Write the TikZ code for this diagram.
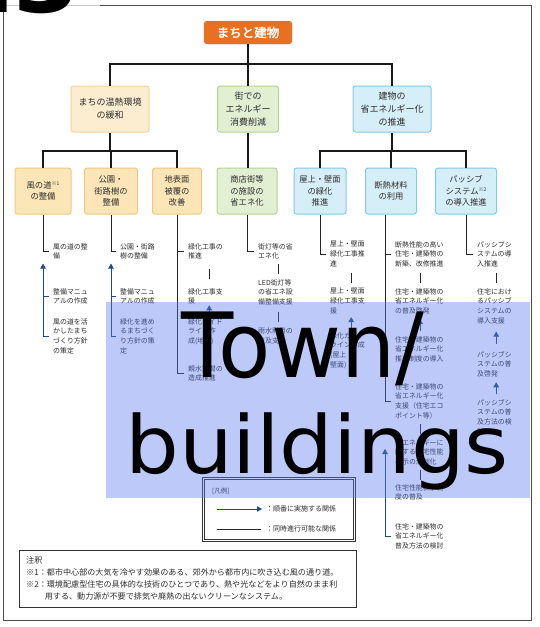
\documentclass[tikz,border=0pt]{standalone}
\usepackage{fontspec}
\usepackage{graphicx}
\usetikzlibrary{arrows.meta,calc}
\newfontfamily\jp{Noto Sans CJK JP}
\newfontfamily\jpbold[AutoFakeBold=2.5]{Noto Sans CJK JP}
\newfontfamily\bigsans{DejaVu Sans}
\definecolor{orng}{RGB}{232,112,32}
\definecolor{yfill}{RGB}{253,237,208}
\definecolor{yline}{RGB}{244,212,155}
\definecolor{yfillc}{RGB}{252,229,182}
\definecolor{ylinec}{RGB}{240,200,130}
\definecolor{gfill}{RGB}{226,239,211}
\definecolor{gline}{RGB}{178,213,148}
\definecolor{bfill}{RGB}{214,238,248}
\definecolor{bline}{RGB}{128,204,232}
\definecolor{arrb}{RGB}{30,75,140}
\definecolor{ovl}{RGB}{90,120,240}
\definecolor{txt}{RGB}{45,45,45}
\newcommand{\fitem}{\jp\fontsize{6.9}{9.8}\selectfont}
\newcommand{\flthree}{\jp\fontsize{8.3}{11.6}\selectfont}
\newcommand{\fltwo}{\jp\fontsize{9}{13}\selectfont}
\newcommand{\supmark}[1]{\raisebox{2.5pt}{\fontsize{5}{5}\selectfont #1}}
\tikzset{
  box/.style={draw, rounded corners=2.5pt, line width=1pt, align=center, inner sep=0pt, minimum height=46pt, text=txt},
  ytwo/.style={box, fill=yfill, draw=yline, font=\fltwo},
  gtwo/.style={box, fill=gfill, draw=gline, font=\fltwo},
  btwo/.style={box, fill=bfill, draw=bline, font=\fltwo},
  ythree/.style={box, fill=yfillc, draw=ylinec, font=\flthree},
  gthree/.style={box, fill=gfill, draw=gline, font=\flthree},
  bthree/.style={box, fill=bfill, draw=bline, font=\flthree},
  tree/.style={line width=2.8pt, black!90},
  conn/.style={line width=0.7pt, black!85},
  seq/.style={line width=0.8pt, draw=arrb, -{Triangle[width=5.5pt,length=5pt]}},
  seqline/.style={line width=0.8pt, draw=arrb},
  item/.style={anchor=north west, inner sep=0pt, align=left, font=\fitem, text=txt, text width=#1},
}
\begin{document}
\begin{tikzpicture}[x=1pt,y=-1pt]
\useasboundingbox (0,0) rectangle (539,627);
\clip (0,0) rectangle (539,627);
\fill[white] (0,0) rectangle (539,627);
% outer frame
\draw[gray!60!black, line width=1pt] (3,5) rectangle (531,620);

% title and level 2
\node[fill=orng, draw=orng!85!white, rounded corners=3pt, minimum width=88pt, minimum height=23pt, inner sep=0pt, text=white, font=\jpbold\bfseries\fontsize{12.5}{14}\selectfont] (T) at (248,32.5) {まちと建物};
\node[ytwo, minimum width=78pt] (A) at (110,109) {まちの温熱環境\\の緩和};
\node[gtwo, minimum width=61pt] (B) at (248,109) {街での\\エネルギー\\消費削減};
\node[btwo, minimum width=78pt] (C) at (392,109) {建物の\\省エネルギー化\\の推進};

% level 3
\node[ythree, minimum width=56pt] (L1) at (43,191) {風の道\supmark{※1}\\の整備};
\node[ythree, minimum width=53pt] (L2) at (111,191) {公園・\\街路樹の\\整備};
\node[ythree, minimum width=49pt] (L3) at (177,191) {地表面\\被覆の\\改善};
\node[gthree, minimum width=60pt] (L4) at (247,191) {商店街等\\の施設の\\省エネ化};
\node[bthree, minimum width=52pt] (L5) at (320,191) {屋上・壁面\\の緑化\\推進};
\node[bthree, minimum width=51pt] (L6) at (391,191) {断熱材料\\の利用};
\node[bthree, minimum width=61pt] (L7) at (466,191) {パッシブ\\システム\supmark{※2}\\の導入推進};

% tree connectors
\coordinate (bar1) at (0,64);
\coordinate (bar2) at (0,151);
\draw[tree] (T.south) -- (B.north);
\draw[tree] (A.north) -- (A.north |- bar1) -- (C.north |- bar1) -- (C.north);
\draw[tree] (A.south) -- (A.south |- bar2);
\draw[tree] (L1.north) -- (L1.north |- bar2) -- (L3.north |- bar2) -- (L3.north);
\draw[tree] (L2.north) -- (L2.north |- bar2);
\draw[tree] (B.south) -- (B.south |- L4.north);
\draw[tree] (C.south) -- (C.south |- bar2);
\draw[tree] (L5.north) -- (L5.north |- bar2) -- (L7.north |- bar2) -- (L7.north);
\draw[tree] (L6.north) -- (L6.north |- bar2);

% items column 1
\node[item=38pt] (I11) at (53,243) {風の道の整\\備};
\node[item=38pt] (I12) at (53,288) {整備マニュ\\アルの作成};
\node[item=38pt] (I13) at (53,318) {風の道を活\\かしたまち\\づくり方針\\の策定};
% column 2
\node[item=38pt] (I21) at (120,243) {公園・街路\\樹の整備};
\node[item=38pt] (I22) at (120,288) {整備マニュ\\アルの作成};
\node[item=38pt] (I23) at (120,318) {緑化を進め\\るまちづく\\り方針の策\\定};
% column 3
\node[item=42pt] (I31) at (188,243) {緑化工事の\\推進};
\node[item=42pt] (I32) at (188,288) {緑化工事支\\援};
\node[item=42pt] (I33) at (188,318) {緑化ガイド\\ライン作\\成(地面)};
\node[item=42pt] (I34) at (188,365) {親水空間の\\造成推進};
% column 4
\node[item=40pt] (I41) at (258,243) {街灯等の省\\エネ化};
\node[item=40pt] (I42) at (258,279) {LED街灯等\\の省エネ設\\備整備支援};
\node[item=40pt] (I43) at (258,328) {雨水利用の\\普及支援};
% column 5
\node[item=42pt] (I51) at (330,241) {屋上・壁面\\緑化工事推\\進};
\node[item=42pt] (I52) at (330,288) {屋上・壁面\\緑化工事支\\援};
\node[item=42pt] (I53) at (330,332) {緑化ガイド\\ライン作成\\(屋上・\\壁面)};
% column 6
\node[item=50pt] (I61) at (395,241) {断熱性能の高い\\住宅・建築物の\\新築、改修推進};
\node[item=50pt] (I62) at (395,288) {住宅・建築物の\\省エネルギー化\\の普及啓発};
\node[item=50pt] (I63) at (395,336) {住宅・建築物の\\省エネルギー化\\推進制度の導入};
\node[item=50pt] (I64) at (395,383) {住宅・建築物の\\省エネルギー化\\支援（住宅エコ\\ポイント等）};
\node[item=50pt] (I65) at (395,439) {省エネルギーに\\関する住宅性能\\表示の法制化};
\node[item=50pt] (I66) at (395,484) {住宅性能表示制\\度の普及};
\node[item=50pt] (I67) at (395,523) {住宅・建築物の\\省エネルギー化\\普及方法の検討};
% column 7
\node[item=38pt] (I71) at (477,241) {パッシブシ\\ステムの導\\入推進};
\node[item=38pt] (I72) at (477,288) {住宅におけ\\るパッシブ\\システムの\\導入支援};
\node[item=38pt] (I73) at (477,351) {パッシブシ\\ステムの普\\及啓発};
\node[item=38pt] (I74) at (477,399) {パッシブシ\\ステムの普\\及方法の検\\討};

% column connectors
\coordinate (c6) at (385,0);
\draw[conn] (L1.south) |- ([xshift=-4pt]I11.west);
\draw[seq] ([xshift=-4pt]I13.west) -| ($(L1.south |- I11.south)+(0,4)$);
\draw[seqline] (L1.south |- I12.west) -- ([xshift=-4pt]I12.west);

\draw[conn] (L2.south) |- ([xshift=-4pt]I21.west);
\draw[seq] ([xshift=-4pt]I23.west) -| ($(L2.south |- I21.south)+(0,4)$);
\draw[seqline] (L2.south |- I22.west) -- ([xshift=-4pt]I22.west);

\draw[conn] (L3.south) |- ([xshift=-4pt]I34.west);
\draw[conn] (L3.south |- I31.west) -- ([xshift=-4pt]I31.west);
\draw[conn] ($(I31.south)!0.5!(I32.north)+(0,-5)$) -- ($(I31.south)!0.5!(I32.north)+(0,5)$);
\draw[seq] ($(I32.south)!0.5!(I33.north)+(0,6)$) -- ($(I32.south)!0.5!(I33.north)+(0,-6)$);

\draw[conn] (L4.south) |- ([xshift=-4pt]I41.west);
\draw[conn] ($(I41.south)!0.5!(I42.north)+(0,-5)$) -- ($(I41.south)!0.5!(I42.north)+(0,5)$);
\draw[conn] ($(I42.south)!0.5!(I43.north)+(0,-5)$) -- ($(I42.south)!0.5!(I43.north)+(0,5)$);

\draw[conn] (L5.south) |- ([xshift=-4pt]I51.west);
\draw[conn] ($(I51.south)!0.5!(I52.north)+(0,-5)$) -- ($(I51.south)!0.5!(I52.north)+(0,5)$);
\draw[seq] ($(I52.south)!0.5!(I53.north)+(0,6)$) -- ($(I52.south)!0.5!(I53.north)+(0,-6)$);

\draw[conn] (L6.south -| c6) |- ([xshift=-4pt]I64.west);
\draw[conn] (c6 |- I61.west) -- ([xshift=-4pt]I61.west);
\draw[conn] ($(I61.south)!0.5!(I62.north)+(0,-5)$) -- ($(I61.south)!0.5!(I62.north)+(0,5)$);
\draw[seq] ($(I62.south)!0.5!(I63.north)+(0,6)$) -- ($(I62.south)!0.5!(I63.north)+(0,-6)$);
\draw[conn] ($(I64.south)!0.5!(I65.north)+(0,-5)$) -- ($(I64.south)!0.5!(I65.north)+(0,5)$);
\draw[conn] ($(I65.south)!0.5!(I66.north)+(0,-5)$) -- ($(I65.south)!0.5!(I66.north)+(0,5)$);
\draw[seq] ([xshift=-4pt]I67.west) -| ($(c6 |- I65.north)+(0,10)$);

\draw[conn] (L7.south) |- ([xshift=-4pt]I71.west);
\draw[conn] ($(I71.south)!0.5!(I72.north)+(0,-5)$) -- ($(I71.south)!0.5!(I72.north)+(0,5)$);
\draw[seq] ($(I72.south)!0.5!(I73.north)+(0,6)$) -- ($(I72.south)!0.5!(I73.north)+(0,-6)$);
\draw[seq] ($(I73.south)!0.5!(I74.north)+(0,6)$) -- ($(I73.south)!0.5!(I74.north)+(0,-6)$);

% legend
\node[draw=black!80, double, double distance=1.3pt, line width=0.6pt, minimum width=151pt, minimum height=62pt, anchor=north west, inner sep=0pt] (leg) at (203,478) {};
\node[anchor=west, inner sep=0pt, font=\jp\fontsize{6.5}{8}\selectfont, text=txt] (legt) at (212,491) {[凡例]};
\coordinate (la1) at (217,509);
\coordinate (la2) at (262,509);
\coordinate (lb1) at (217,529);
\coordinate (lb2) at (261,529);
\draw[seq] (la1) -- (la2);
\draw[conn] (lb1) -- (lb2);
\node[anchor=west, inner sep=0pt, font=\jp\fontsize{7}{8}\selectfont, text=txt] (lt1) at (266,509) {：順番に実施する関係};
\node[anchor=west, inner sep=0pt, font=\jp\fontsize{7}{8}\selectfont, text=txt] (lt2) at (266,529) {：同時進行可能な関係};

% notes
\node[draw=black!80, line width=0.9pt, minimum width=337pt, minimum height=57pt, anchor=north west, inner sep=0pt] (notes) at (19,550) {};
\node[anchor=north west, inner sep=0pt, align=left, font=\jp\fontsize{8.1}{12.3}\selectfont, text=txt] (nt) at (26,556) {注釈\\※1：都市中心部の大気を冷やす効果のある、郊外から都市内に吹き込む風の通り道。\\※2：環境配慮型住宅の具体的な技術のひとつであり、熱や光などをより自然のまま利\\\hspace*{2.3em}用する、動力源が不要で排気や廃熱の出ないクリーンなシステム。};

% overlay
\fill[ovl, opacity=0.4] (106,302) rectangle (530,498);
\node[anchor=base west, inner sep=0pt, font=\bigsans\fontsize{90}{90}\selectfont] (tw) at (181,377) {\scalebox{0.95}[1]{Town/}};
\node[anchor=base west, inner sep=0pt, font=\bigsans\fontsize{80}{80}\selectfont] (bd) at (125,473) {\scalebox{1.06}[1]{buildings}};

% corner number
\fill[white, opacity=0.7] (0,0) rectangle (100,12);
\node[anchor=base west, inner sep=0pt, font=\bigsans\bfseries\fontsize{95}{95}\selectfont] (num) at (-53,12) {13};
\end{tikzpicture}
\end{document}
